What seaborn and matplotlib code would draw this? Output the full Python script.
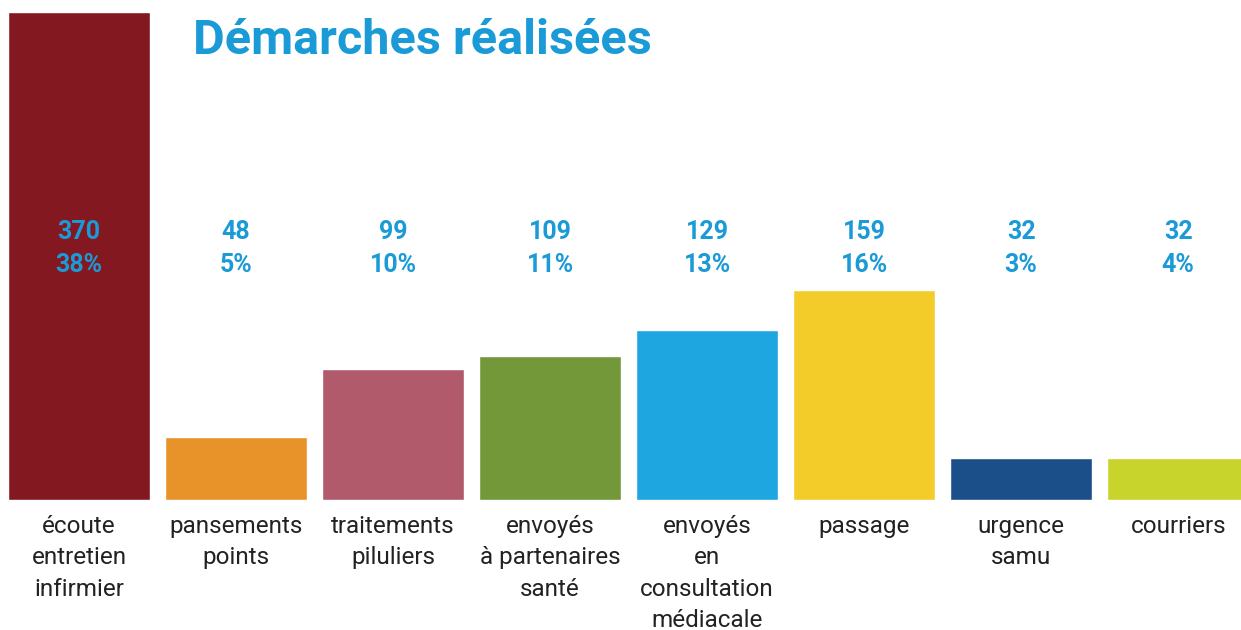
import numpy as np
import pandas as pd
import seaborn as sb
import matplotlib.pyplot as plt

# Data
categories = ["écoute\nentretien\ninfirmier", "pansements\npoints", "traitements\npiluliers",
              "envoyés\nà partenaires\nsanté", "envoyés\nen\nconsultation\nmédiacale",
              "passage", "urgence\nsamu", "courriers"]
counts = [370, 48, 99, 109, 129, 159, 32, 32]
percents = ["38%", "5%", "10%", "11%", "13%", "16%", "3%", "4%"]
colors = ["#841820", "#e8922a", "#b05a6c", "#73983a", "#1ea6e0", "#f4cc2a", "#1b4f8a", "#c8d42c"]

dataset = pd.DataFrame({"cat": categories, "count": counts})

sb.set_style("white")
plt.rcParams["font.family"] = ["Roboto", "DejaVu Sans"]

fig = plt.figure(figsize=(12.41, 6.30), dpi=100)
ax = fig.add_axes([0, 0.2063, 1, 0.7746])

sb.barplot(data=dataset, x="cat", y="count", hue="cat", palette=colors,
           legend=False, width=0.905, saturation=1, ax=ax)

ax.set_xlim(-0.503, 7.40)
ax.set_ylim(0, 370)
ax.set_xlabel("")
ax.set_ylabel("")
ax.set_yticks([])
ax.tick_params(axis="x", length=0, pad=11, labelsize=17.5, labelcolor="#222222")
for lbl in ax.get_xticklabels():
    lbl.set_linespacing(1.45)
for s in ax.spines.values():
    s.set_visible(False)

# Value + percent labels
blue = "#1a9ad6"
for i in range(len(counts)):
    ax.text(i, 0.515, f"{counts[i]}\n{percents[i]}", transform=ax.get_xaxis_transform(),
            ha="center", va="center", color=blue, fontsize=18, fontweight="bold",
            linespacing=1.45)

fig.text(0.1555, 0.935, "Démarches réalisées", ha="left", va="center",
         color=blue, fontsize=35, fontweight="bold")

fig.savefig("out.png", dpi=100)
